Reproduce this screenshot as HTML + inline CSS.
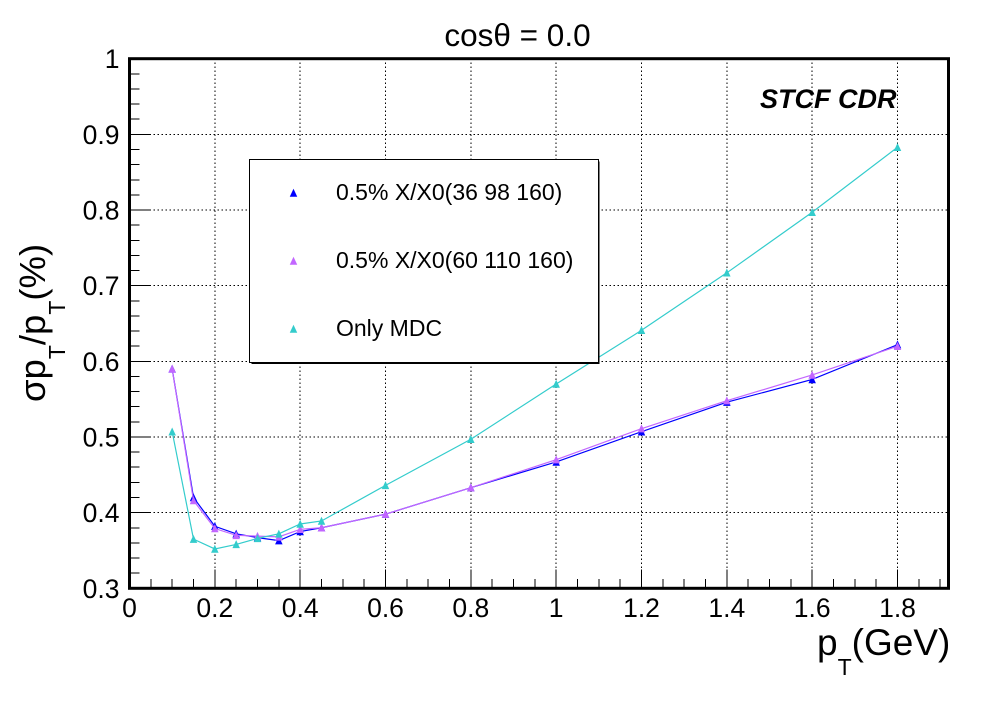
<!DOCTYPE html>
<html>
<head>
<meta charset="utf-8">
<style>
html,body{margin:0;padding:0;background:#fff;}
svg{display:block;font-family:"Liberation Sans",sans-serif;}
</style>
</head>
<body>
<svg id="chart" xmlns="http://www.w3.org/2000/svg" width="998" height="726" viewBox="0 0 998 726">
  <rect x="0" y="0" width="998" height="726" fill="#fff"/>
  <g id="grid" shape-rendering="crispEdges"></g>
  <g id="ticks" shape-rendering="crispEdges"></g>
  <g id="labels" font-size="26.5" fill="#000"></g>
  <g id="series"></g>
  <rect x="129.5" y="58.7" width="819" height="529.6" fill="none" stroke="#000" stroke-width="3"/>
  <text x="517.5" y="46" text-anchor="middle" font-size="31.5">cosθ = 0.0</text>
  <text transform="translate(45,402) rotate(-90)" font-size="36.5">σp<tspan font-size="23" dy="20">T</tspan><tspan dy="-20">/p</tspan><tspan font-size="23" dy="20">T</tspan><tspan dy="-20">(%)</tspan></text>
  <text x="817" y="655" font-size="37">p<tspan font-size="23" dy="20">T</tspan><tspan dy="-20">(GeV)</tspan></text>
  <text x="760" y="108" font-size="27" font-weight="bold" font-style="italic">STCF CDR</text>
  <g id="legend">
    <rect x="251.5" y="161.5" width="348" height="202.5" fill="#000"/>
    <rect x="249.5" y="159.5" width="349" height="203" fill="#fff" stroke="#000" stroke-width="1"/>
  </g>
</svg>
<script>
var seriesNames = ['0.5% X/X0(36 98 160)', '0.5% X/X0(60 110 160)', 'Only MDC'];
var seriesColors = ['#0000ff', '#c266ff', '#33cccc'];
var ptBlue = [0.1, 0.15, 0.2, 0.25, 0.3, 0.35, 0.4, 0.45, 0.6, 0.8, 1.0, 1.2, 1.4, 1.6, 1.8];
var ptPurple = [0.1, 0.15, 0.2, 0.25, 0.3, 0.35, 0.4, 0.45, 0.6, 0.8, 1.0, 1.2, 1.4, 1.6, 1.8];
var ptCyan = [0.1, 0.15, 0.2, 0.25, 0.3, 0.35, 0.4, 0.45, 0.6, 0.8, 1.0, 1.2, 1.4, 1.6, 1.8];
var sigmaBlue = [0.59, 0.42, 0.382, 0.372, 0.367, 0.363, 0.375, 0.38, 0.398, 0.433, 0.467, 0.507, 0.546, 0.576, 0.622];
var sigmaPurple = [0.59, 0.416, 0.379, 0.37, 0.369, 0.368, 0.378, 0.38, 0.398, 0.433, 0.47, 0.511, 0.548, 0.582, 0.62];
var sigmaCyan = [0.507, 0.365, 0.352, 0.358, 0.366, 0.372, 0.385, 0.389, 0.436, 0.497, 0.57, 0.641, 0.717, 0.797, 0.883];
var xTickLabels = ['0', '0.2', '0.4', '0.6', '0.8', '1', '1.2', '1.4', '1.6', '1.8'];
var yTickLabels = ['0.3', '0.4', '0.5', '0.6', '0.7', '0.8', '0.9', '1'];

var SVG_NS = 'http://www.w3.org/2000/svg';
var plotLeft = 129.5, plotRight = 948.5, plotTop = 58.7, plotBottom = 588.3;
var xMin = 0, xMax = 1.9195, yMin = 0.3, yMax = 1;

function xScale(v) { return plotLeft + (v - xMin) / (xMax - xMin) * (plotRight - plotLeft); }
function yScale(v) { return plotBottom - (v - yMin) / (yMax - yMin) * (plotBottom - plotTop); }

function make(tag, attrs, parent) {
  var el = document.createElementNS(SVG_NS, tag);
  for (var k in attrs) { el.setAttribute(k, attrs[k]); }
  parent.appendChild(el);
  return el;
}

function triangle(cx, cy, size) {
  var h = size / 2;
  return (cx - h) + ',' + (cy + h) + ' ' + cx + ',' + (cy - h - 0.5) + ' ' + (cx + h) + ',' + (cy + h);
}

var gridGroup = document.getElementById('grid');
var tickGroup = document.getElementById('ticks');
var labelGroup = document.getElementById('labels');
var seriesGroup = document.getElementById('series');
var legendGroup = document.getElementById('legend');

xTickLabels.forEach(function (label) {
  var v = parseFloat(label);
  var px = xScale(v);
  if (v > xMin) {
    var g = make('line', { x1: px, x2: px, y1: plotTop, y2: plotBottom, stroke: '#000', 'stroke-width': 1, 'stroke-dasharray': '1.5 2.5' }, gridGroup);
    
    
  }
  var t = make('line', { x1: px, x2: px, y1: plotBottom, y2: plotBottom - 19, stroke: '#000', 'stroke-width': 1 }, tickGroup);
  
  
  var txt = make('text', { x: px, y: 617, 'text-anchor': 'middle' }, labelGroup);
  txt.textContent = label;
  
  
});

for (var i = 1; i * 0.05 < xMax; i++) {
  if (i % 4 === 0) { continue; }
  var mx = make('line', { x1: xScale(i * 0.05), x2: xScale(i * 0.05), y1: plotBottom, y2: plotBottom - 9.5, stroke: '#000', 'stroke-width': 1 }, tickGroup);
  
  
}

yTickLabels.forEach(function (label) {
  var v = parseFloat(label);
  var py = yScale(v);
  if (v > yMin && v < yMax) {
    var g = make('line', { x1: plotLeft, x2: plotRight, y1: py, y2: py, stroke: '#000', 'stroke-width': 1, 'stroke-dasharray': '1.5 2.5' }, gridGroup);
    
    
  }
  var t = make('line', { x1: plotLeft, x2: plotLeft + 20, y1: py, y2: py, stroke: '#000', 'stroke-width': 1 }, tickGroup);
  
  
  var txt = make('text', { x: 119.5, y: py + 9.5, 'text-anchor': 'end' }, labelGroup);
  txt.textContent = label;
  
  
});

for (var j = 1; j < 35; j++) {
  if (j % 5 === 0) { continue; }
  var yv = yMin + j * 0.02;
  var my = make('line', { x1: plotLeft, x2: plotLeft + 10, y1: yScale(yv), y2: yScale(yv), stroke: '#000', 'stroke-width': 1 }, tickGroup);
  
  
}

function drawSeries(name, color, xs, ys) {
  var pts = xs.map(function (x, i) { return xScale(x) + ',' + yScale(ys[i]); }).join(' ');
  var line = make('polyline', { points: pts, fill: 'none', stroke: color, 'stroke-width': 1.2 }, seriesGroup);
  
  
  xs.forEach(function (x, i) {
    var m = make('polygon', { points: triangle(xScale(x), yScale(ys[i]), 7.5), fill: color }, seriesGroup);
    
    
  });
}

drawSeries('series-36-98-160', seriesColors[0], ptBlue, sigmaBlue);
drawSeries('series-60-110-160', seriesColors[1], ptPurple, sigmaPurple);
drawSeries('series-only-mdc', seriesColors[2], ptCyan, sigmaCyan);

var legendSpacing = 68;
seriesNames.forEach(function (name, i) {
  var cy = 193 + i * legendSpacing;
  var m = make('polygon', { points: triangle(293.5, cy, 7.5), fill: seriesColors[i] }, legendGroup);
  
  
  var t = make('text', { x: 336, y: cy + 7, 'font-size': 23, fill: '#000' }, legendGroup);
  t.textContent = name;
  
  
});
</script>
</body>
</html>
